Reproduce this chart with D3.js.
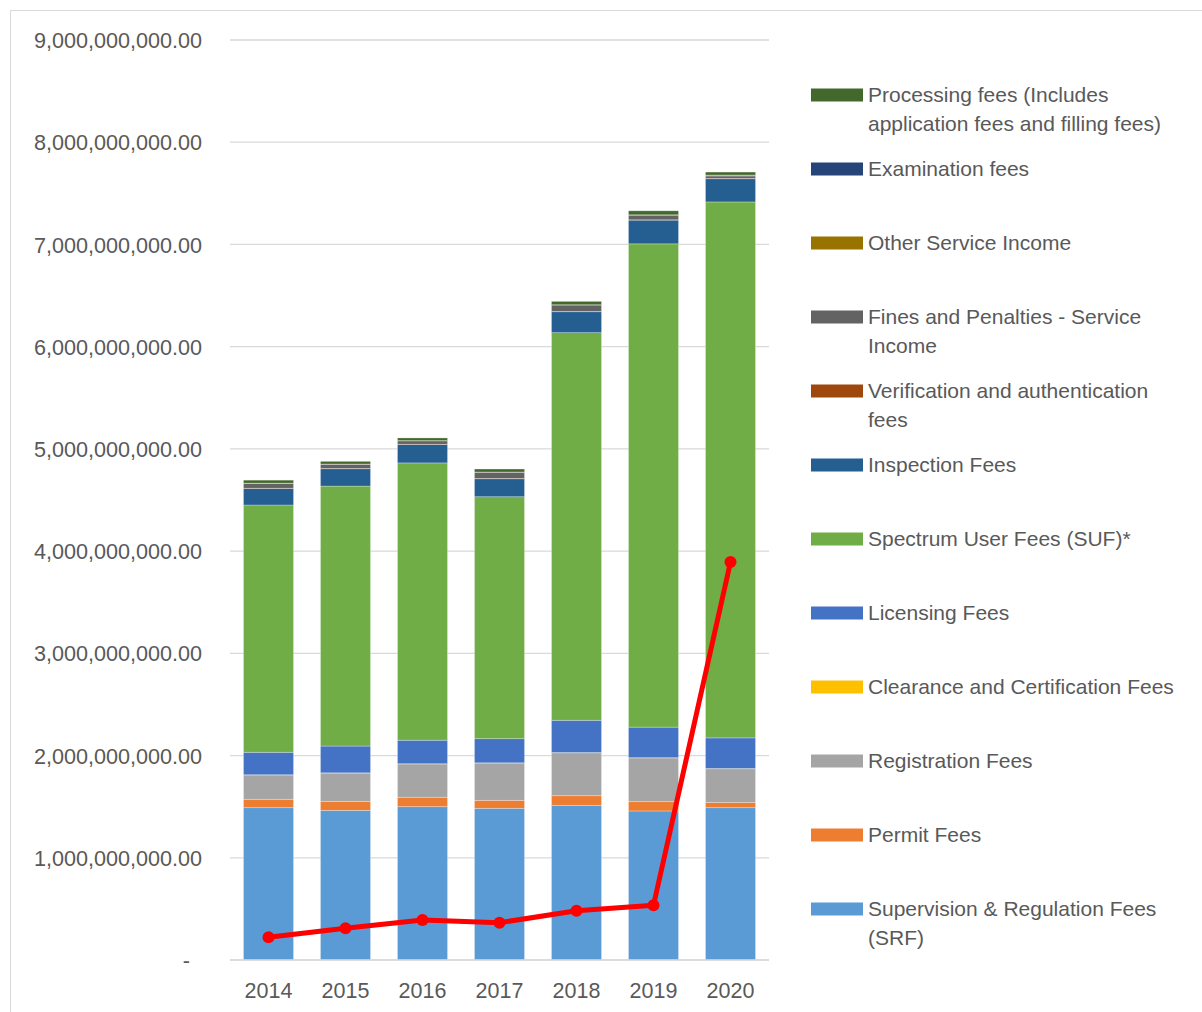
<!DOCTYPE html>
<html><head><meta charset="utf-8">
<script src="https://cdn.jsdelivr.net/npm/d3@7"></script>
<style>body{margin:0;background:#fff;} text{font-family:"Liberation Sans",Arial,sans-serif;fill:#595959;}</style>
</head><body>
<svg id="c" width="1202" height="1012"></svg>
<script>
const years = ["2014","2015","2016","2017","2018","2019","2020"];
// values in billions
const supervisionRegulation = [1.490,1.464,1.500,1.484,1.513,1.458,1.490];
const permitFees            = [0.082,0.088,0.092,0.078,0.094,0.091,0.052];
const registrationFees      = [0.238,0.277,0.326,0.365,0.420,0.428,0.329];
const clearanceCertification= [0.002,0.002,0.002,0.002,0.002,0.002,0.002];
const licensingFees         = [0.220,0.262,0.230,0.236,0.316,0.299,0.300];
const spectrumUserFees      = [2.419,2.543,2.713,2.367,3.792,4.728,5.243];
const inspectionFees        = [0.161,0.170,0.179,0.176,0.205,0.232,0.227];
const verificationFees      = [0.003,0.003,0.003,0.003,0.003,0.003,0.003];
const finesPenalties        = [0.048,0.041,0.034,0.061,0.063,0.046,0.024];
const otherServiceIncome    = [0.001,0.001,0.001,0.001,0.001,0.002,0.008];
const examinationFees       = [0.001,0.001,0.001,0.001,0.001,0.001,0.001];
const processingFees        = [0.029,0.026,0.026,0.029,0.033,0.039,0.029];
const redLine               = [0.222,0.310,0.391,0.365,0.482,0.535,3.894];
const yTicks = [0,1,2,3,4,5,6,7,8,9];

const series = [
  {name:"Supervision & Regulation Fees (SRF)", lines:["Supervision & Regulation Fees","(SRF)"], color:"#5b9bd5", v:supervisionRegulation},
  {name:"Permit Fees", lines:["Permit Fees"], color:"#ed7d31", v:permitFees},
  {name:"Registration Fees", lines:["Registration Fees"], color:"#a5a5a5", v:registrationFees},
  {name:"Clearance and Certification Fees", lines:["Clearance and Certification Fees"], color:"#ffc000", v:clearanceCertification},
  {name:"Licensing Fees", lines:["Licensing Fees"], color:"#4472c4", v:licensingFees},
  {name:"Spectrum User Fees (SUF)*", lines:["Spectrum User Fees (SUF)*"], color:"#70ad47", v:spectrumUserFees},
  {name:"Inspection Fees", lines:["Inspection Fees"], color:"#255e91", v:inspectionFees},
  {name:"Verification and authentication fees", lines:["Verification and authentication","fees"], color:"#9e480e", v:verificationFees},
  {name:"Fines and Penalties - Service Income", lines:["Fines and Penalties - Service","Income"], color:"#636363", v:finesPenalties},
  {name:"Other Service Income", lines:["Other Service Income"], color:"#997300", v:otherServiceIncome},
  {name:"Examination fees", lines:["Examination fees"], color:"#264478", v:examinationFees},
  {name:"Processing fees", lines:["Processing fees (Includes","application fees and filling fees)"], color:"#43682b", v:processingFees}
];

const svg = d3.select("#c");
svg.append("rect").attr("x",10.5).attr("y",10.5).attr("width",1200).attr("height",1010)
  .attr("fill","none").attr("stroke","#d9d9d9");

const x = d3.scaleBand().domain(years).range([230,769]).paddingInner(0.35).paddingOuter(0.175);
const y = d3.scaleLinear().domain([0,9]).range([960,40]);

// gridlines
svg.append("g").selectAll("line").data(yTicks).join("line")
  .attr("x1",230).attr("x2",769).attr("y1",d=>y(d)).attr("y2",d=>y(d))
  .attr("stroke","#d9d9d9").attr("stroke-width",1.3);

const fmt = d => d===0 ? "-" : d3.format(",.2f")(d*1e9);
const yAxis = svg.append("g").attr("transform","translate(202,0)")
  .call(d3.axisLeft(y).tickValues(yTicks).tickSize(0).tickFormat(fmt));
yAxis.select(".domain").remove();
yAxis.selectAll("text").attr("x",0).attr("dy","0.35em").style("font-size","21.6px").attr("fill","#595959")
  .style("font-family","'Liberation Sans',Arial,sans-serif")
  .attr("dx",d=>d===0?-12:0);

// stacked bars
const table = years.map((yr,i)=>{const o={year:yr}; series.forEach(s=>o[s.name]=s.v[i]); return o;});
const stack = d3.stack().keys(series.map(s=>s.name))(table);
svg.append("g").selectAll("g").data(stack).join("g")
  .attr("fill",(d,i)=>series[i].color)
  .selectAll("rect").data(d=>d).join("rect")
  .attr("x",d=>x(d.data.year)).attr("width",x.bandwidth())
  .attr("y",d=>y(d[1])).attr("height",d=>Math.max(0,y(d[0])-y(d[1])))
  .attr("stroke","#ffffff").attr("stroke-opacity",0.35).attr("stroke-width",0.8);

// x axis
svg.append("line").attr("x1",230).attr("x2",769).attr("y1",960).attr("y2",960).attr("stroke","#d9d9d9").attr("stroke-width",1.3);
const xAxis = svg.append("g").attr("transform","translate(0,960)")
  .call(d3.axisBottom(x).tickSize(0).tickPadding(23));
xAxis.select(".domain").remove();
xAxis.selectAll("text").style("font-size","21.5px").attr("fill","#595959")
  .style("font-family","'Liberation Sans',Arial,sans-serif");

// red line
const line = d3.line().x((d,i)=>x(years[i])+x.bandwidth()/2).y(d=>y(d));
svg.append("path").datum(redLine).attr("d",line).attr("fill","none")
  .attr("stroke","#ff0000").attr("stroke-width",5).attr("stroke-linejoin","round");
svg.append("g").selectAll("circle").data(redLine).join("circle")
  .attr("cx",(d,i)=>x(years[i])+x.bandwidth()/2).attr("cy",d=>y(d)).attr("r",6).attr("fill","#ff0000");

// legend (top-down reverse order)
const leg = svg.append("g");
const legItems = series.slice().reverse();
legItems.forEach((s,i)=>{
  const cy = 95 + i*74;
  leg.append("rect").attr("x",811).attr("y",cy-6.5).attr("width",52).attr("height",13).attr("fill",s.color);
  s.lines.forEach((t,j)=>{
    leg.append("text").attr("x",868).attr("y",cy+j*29).attr("dy","0.35em")
      .style("font-size","21px").text(t);
  });
});
</script>
</body></html>
